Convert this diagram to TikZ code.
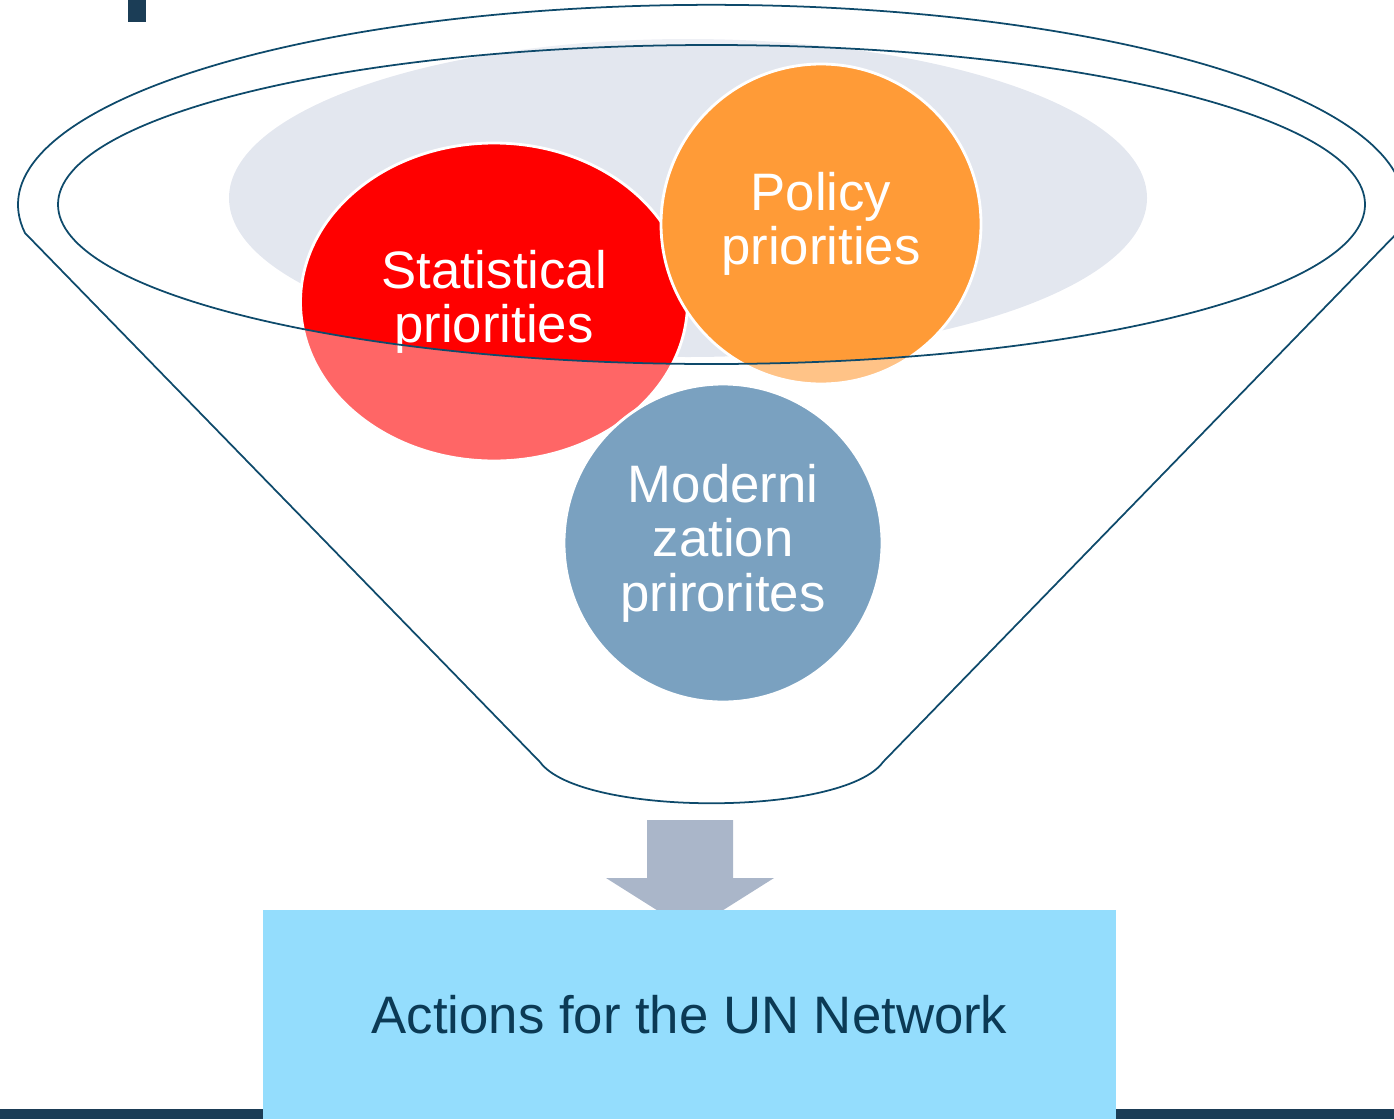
\documentclass[tikz,border=0pt]{standalone}
\usepackage{fontspec}
\setmainfont{Liberation Sans}
\usetikzlibrary{shapes.geometric}

\definecolor{rimline}{HTML}{0E4A6B}
\definecolor{cupgrey}{HTML}{E3E7EF}
\definecolor{statred}{HTML}{FF0000}
\definecolor{policyorange}{HTML}{FF9B37}
\definecolor{modernblue}{HTML}{7AA1C0}
\definecolor{arrowgrey}{HTML}{AAB6C9}
\definecolor{actionbox}{HTML}{94DDFD}
\definecolor{navy}{HTML}{1B3D56}
\definecolor{actiontext}{HTML}{0B3A55}

\begin{document}
\begin{tikzpicture}[x=0.1mm,y=-0.1mm,
	prio/.style={draw=white,line width=0.8pt,text=white,align=center,inner sep=0pt,font=\fontsize{15}{15.5}\selectfont},
	rim/.style={draw=rimline,line width=0.5pt}]
		\useasboundingbox (0,0) rectangle (1394,1119);
		% corner mark and bottom bar
		\fill[navy] (128,0) rectangle (146,22);
		\fill[navy] (0,1109) rectangle (1394,1119);
		% funnel points
		\coordinate (lc) at (25,233);
		\coordinate (rc) at (1397,233);
		\coordinate (bl) at (540,762);
		\coordinate (br) at (883,762);
		\coordinate (mouth) at (711.5,204.5);
		\coordinate (cup) at (688,198);
		% priorities
		\fill[cupgrey] (cup) ellipse [x radius=45.9mm, y radius=15.9mm];
		\node[prio,ellipse,fill=statred,minimum width=38.7mm,minimum height=31.8mm] at (494,302) (stat) {Statistical\\priorities};
		\node[prio,circle,fill=policyorange,minimum size=32mm] at (821,224) (policy) {Policy\\priorities};
		% funnel body
		\fill[white,fill opacity=0.4,even odd rule] (lc) arc[start angle=188.1, end angle=-8.1, x radius=69.3mm, y radius=20mm] -- (br) .. controls (843,817) and (580,817) .. (bl) -- cycle
			(mouth) ellipse [x radius=65.35mm, y radius=15.95mm];
		\draw[rim] (lc) arc[start angle=188.1, end angle=-8.1, x radius=69.3mm, y radius=20mm] -- (br) .. controls (843,817) and (580,817) .. (bl) -- cycle;
		\draw[rim] (mouth) ellipse [x radius=65.35mm, y radius=15.95mm];
		\node[prio,circle,fill=modernblue,minimum size=31.8mm] at (723,543) (modern) {Moderni\\zation\\prirorites};
		% output
		\coordinate (spout) at (690,820);
		\fill[arrowgrey] (spout) ++(-43,0) -- ++(86,0) -- ++(0,58) -- ++(41,0) -- (690,931) -- (606,878) -- ++(41,0) -- cycle;
		\node[fill=actionbox,minimum width=85.3mm,minimum height=20.9mm,text=actiontext,font=\fontsize{15}{15.5}\selectfont] at (689.5,1014.5) (actions) {Actions for the UN Network};
	\end{tikzpicture}
\end{document}
